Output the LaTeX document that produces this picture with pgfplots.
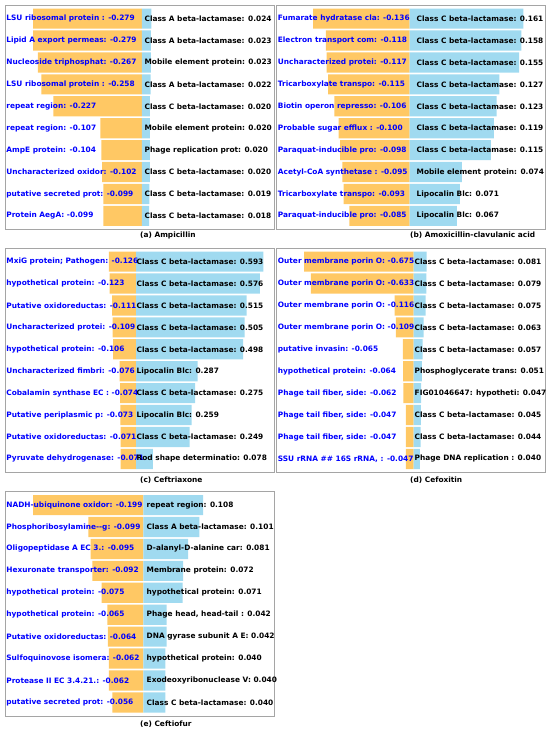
\documentclass[border=0pt]{standalone}
\usepackage{fontspec}
\setmainfont{DejaVu Sans}
\usepackage{pgfplots}
\pgfplotsset{compat=1.18}
\usepackage{pgfplotstable}
\definecolor{negbar}{RGB}{255,200,100}
\definecolor{posbar}{RGB}{160,218,240}
\definecolor{framegray}{RGB}{165,165,165}
\newcommand{\lfont}{\fontsize{7.4bp}{8.8bp}\selectfont\bfseries}

\pgfplotsset{
 panel/.style={
  scale only axis, width=269bp, height=224.5bp, anchor=north west,
  xtick=\empty, ytick=\empty, ymin=-0.62, ymax=9.62, y dir=reverse,
  axis line style={draw=framegray, line width=0.9bp},
  xbar, clip=false,
 },
 negbars/.style={xbar, bar shift=0pt, bar width=0.92, draw=none, fill=negbar},
 posbars/.style={xbar, bar shift=0pt, bar width=0.92, draw=none, fill=posbar},
}
\newcommand{\nl}[2]{\node[anchor=west,inner sep=0pt,text=blue,font=\lfont,xshift=1.2bp] at (axis cs:\xl,#1) {#2};}
\newcommand{\pl}[3]{\node[anchor=west,inner sep=0pt,text=black,font=\lfont,xshift=#3] at (axis cs:0,#1) {#2};}

\pgfplotstableread{
row neg pos
0 -0.279 0.024
1 -0.279 0.023
2 -0.267 0.023
3 -0.258 0.022
4 -0.227 0.020
5 -0.107 0.020
6 -0.104 0.020
7 -0.102 0.020
8 -0.099 0.019
9 -0.099 0.018
}\tblA
\pgfplotstableread{
row neg pos
0 -0.136 0.161
1 -0.118 0.158
2 -0.117 0.155
3 -0.115 0.127
4 -0.106 0.123
5 -0.100 0.119
6 -0.098 0.115
7 -0.095 0.074
8 -0.093 0.071
9 -0.085 0.067
}\tblB
\pgfplotstableread{
row neg pos
0 -0.126 0.593
1 -0.123 0.576
2 -0.111 0.515
3 -0.109 0.505
4 -0.106 0.498
5 -0.076 0.287
6 -0.074 0.275
7 -0.073 0.259
8 -0.071 0.249
9 -0.071 0.078
}\tblC
\pgfplotstableread{
row neg pos
0 -0.675 0.081
1 -0.633 0.079
2 -0.116 0.075
3 -0.109 0.063
4 -0.065 0.057
5 -0.064 0.051
6 -0.062 0.047
7 -0.047 0.045
8 -0.047 0.044
9 -0.047 0.040
}\tblD
\pgfplotstableread{
row neg pos
0 -0.199 0.108
1 -0.099 0.101
2 -0.095 0.081
3 -0.092 0.072
4 -0.075 0.071
5 -0.065 0.042
6 -0.064 0.042
7 -0.062 0.040
8 -0.062 0.040
9 -0.056 0.040
}\tblE

\begin{document}
\begin{tikzpicture}
\useasboundingbox (0,0) rectangle (550bp,-731bp);

% (a)
\def\xl{-0.3513}
\begin{axis}[panel, at={(5bp,-5bp)}, xmin=-0.3513, xmax=0.3385]
\addplot[negbars] table[x=neg,y=row]{\tblA};
\addplot[posbars] table[x=pos,y=row]{\tblA};
\nl{0}{LSU ribosomal protein : -0.279}
\nl{1}{Lipid A export permeas: -0.279}
\nl{2}{Nucleoside triphosphat: -0.267}
\nl{3}{LSU ribosomal protein : -0.258}
\nl{4}{repeat region: -0.227}
\nl{5}{repeat region: -0.107}
\nl{6}{AmpE protein: -0.104}
\nl{7}{Uncharacterized oxidor: -0.102}
\nl{8}{putative secreted prot: -0.099}
\nl{9}{Protein AegA: -0.099}
\pl{0}{Class A beta-lactamase: 0.024}{2.4bp}
\pl{1}{Class A beta-lactamase: 0.023}{2.4bp}
\pl{2}{Mobile element protein: 0.023}{2.4bp}
\pl{3}{Class A beta-lactamase: 0.022}{2.4bp}
\pl{4}{Class C beta-lactamase: 0.020}{2.4bp}
\pl{5}{Mobile element protein: 0.020}{2.4bp}
\pl{6}{Phage replication prot: 0.020}{2.4bp}
\pl{7}{Class C beta-lactamase: 0.020}{2.4bp}
\pl{8}{Class C beta-lactamase: 0.019}{2.4bp}
\pl{9}{Class C beta-lactamase: 0.018}{2.4bp}
\end{axis}

% (b)
\def\xl{-0.1879}
\begin{axis}[panel, at={(276.5bp,-5bp)}, xmin=-0.1879, xmax=0.1921]
\addplot[negbars] table[x=neg,y=row]{\tblB};
\addplot[posbars] table[x=pos,y=row]{\tblB};
\nl{0}{Fumarate hydratase cla: -0.136}
\nl{1}{Electron transport com: -0.118}
\nl{2}{Uncharacterized protei: -0.117}
\nl{3}{Tricarboxylate transpo: -0.115}
\nl{4}{Biotin operon represso: -0.106}
\nl{5}{Probable sugar efflux : -0.100}
\nl{6}{Paraquat-inducible pro: -0.098}
\nl{7}{Acetyl-CoA synthetase : -0.095}
\nl{8}{Tricarboxylate transpo: -0.093}
\nl{9}{Paraquat-inducible pro: -0.085}
\pl{0}{Class C beta-lactamase: 0.161}{7bp}
\pl{1}{Class C beta-lactamase: 0.158}{7bp}
\pl{2}{Class C beta-lactamase: 0.155}{7bp}
\pl{3}{Class C beta-lactamase: 0.127}{7bp}
\pl{4}{Class C beta-lactamase: 0.123}{7bp}
\pl{5}{Class C beta-lactamase: 0.119}{7bp}
\pl{6}{Class C beta-lactamase: 0.115}{7bp}
\pl{7}{Mobile element protein: 0.074}{7bp}
\pl{8}{Lipocalin Blc: 0.071}{7bp}
\pl{9}{Lipocalin Blc: 0.067}{7bp}
\end{axis}

% (c)
\def\xl{-0.6093}
\begin{axis}[panel, at={(5bp,-248bp)}, xmin=-0.6093, xmax=0.6419]
\addplot[negbars] table[x=neg,y=row]{\tblC};
\addplot[posbars] table[x=pos,y=row]{\tblC};
\nl{0}{MxiG protein; Pathogen: -0.126}
\nl{1}{hypothetical protein: -0.123}
\nl{2}{Putative oxidoreductas: -0.111}
\nl{3}{Uncharacterized protei: -0.109}
\nl{4}{hypothetical protein: -0.106}
\nl{5}{Uncharacterized fimbri: -0.076}
\nl{6}{Cobalamin synthase EC : -0.074}
\nl{7}{Putative periplasmic p: -0.073}
\nl{8}{Putative oxidoreductas: -0.071}
\nl{9}{Pyruvate dehydrogenase: -0.071}
\pl{0}{Class C beta-lactamase: 0.593}{0.5bp}
\pl{1}{Class C beta-lactamase: 0.576}{0.5bp}
\pl{2}{Class C beta-lactamase: 0.515}{0.5bp}
\pl{3}{Class C beta-lactamase: 0.505}{0.5bp}
\pl{4}{Class C beta-lactamase: 0.498}{0.5bp}
\pl{5}{Lipocalin Blc: 0.287}{0.5bp}
\pl{6}{Class C beta-lactamase: 0.275}{0.5bp}
\pl{7}{Lipocalin Blc: 0.259}{0.5bp}
\pl{8}{Class C beta-lactamase: 0.249}{0.5bp}
\pl{9}{Rod shape determinatio: 0.078}{0.5bp}
\end{axis}

% (d)
\def\xl{-0.8457}
\begin{axis}[panel, at={(276.5bp,-248bp)}, xmin=-0.8457, xmax=0.8148]
\addplot[negbars] table[x=neg,y=row]{\tblD};
\addplot[posbars] table[x=pos,y=row]{\tblD};
\nl{0}{Outer membrane porin O: -0.675}
\nl{1}{Outer membrane porin O: -0.633}
\nl{2}{Outer membrane porin O: -0.116}
\nl{3}{Outer membrane porin O: -0.109}
\nl{4}{putative invasin: -0.065}
\nl{5}{hypothetical protein: -0.064}
\nl{6}{Phage tail fiber, side: -0.062}
\nl{7}{Phage tail fiber, side: -0.047}
\nl{8}{Phage tail fiber, side: -0.047}
\nl{9}{SSU rRNA \#\# 16S rRNA, : -0.047}
\pl{0}{Class C beta-lactamase: 0.081}{1bp}
\pl{1}{Class C beta-lactamase: 0.079}{1bp}
\pl{2}{Class C beta-lactamase: 0.075}{1bp}
\pl{3}{Class C beta-lactamase: 0.063}{1bp}
\pl{4}{Class C beta-lactamase: 0.057}{1bp}
\pl{5}{Phosphoglycerate trans: 0.051}{1bp}
\pl{6}{FIG01046647: hypotheti: 0.047}{1bp}
\pl{7}{Class C beta-lactamase: 0.045}{1bp}
\pl{8}{Class C beta-lactamase: 0.044}{1bp}
\pl{9}{Phage DNA replication : 0.040}{1bp}
\end{axis}

% (e)
\def\xl{-0.2496}
\begin{axis}[panel, at={(5bp,-491.5bp)}, xmin=-0.2496, xmax=0.2359]
\addplot[negbars] table[x=neg,y=row]{\tblE};
\addplot[posbars] table[x=pos,y=row]{\tblE};
\nl{0}{NADH-ubiquinone oxidor: -0.199}
\nl{1}{Phosphoribosylamine-{}-g: -0.099}
\nl{2}{Oligopeptidase A EC 3.: -0.095}
\nl{3}{Hexuronate transporter: -0.092}
\nl{4}{hypothetical protein: -0.075}
\nl{5}{hypothetical protein: -0.065}
\nl{6}{Putative oxidoreductas: -0.064}
\nl{7}{Sulfoquinovose isomera: -0.062}
\nl{8}{Protease II EC 3.4.21.: -0.062}
\nl{9}{putative secreted prot: -0.056}
\pl{0}{repeat region: 0.108}{3.2bp}
\pl{1}{Class A beta-lactamase: 0.101}{3.2bp}
\pl{2}{D-alanyl-D-alanine car: 0.081}{3.2bp}
\pl{3}{Membrane protein: 0.072}{3.2bp}
\pl{4}{hypothetical protein: 0.071}{3.2bp}
\pl{5}{Phage head, head-tail : 0.042}{3.2bp}
\pl{6}{DNA gyrase subunit A E: 0.042}{3.2bp}
\pl{7}{hypothetical protein: 0.040}{3.2bp}
\pl{8}{Exodeoxyribonuclease V: 0.040}{3.2bp}
\pl{9}{Class C beta-lactamase: 0.040}{3.2bp}
\end{axis}

\node[anchor=west,inner sep=0pt,font=\lfont] at (140bp,-235bp) {(a) Ampicillin};
\node[anchor=west,inner sep=0pt,font=\lfont] at (410bp,-235bp) {(b) Amoxicillin-clavulanic acid};
\node[anchor=west,inner sep=0pt,font=\lfont] at (140bp,-480.5bp) {(c) Ceftriaxone};
\node[anchor=west,inner sep=0pt,font=\lfont] at (410bp,-480.5bp) {(d) Cefoxitin};
\node[anchor=west,inner sep=0pt,font=\lfont] at (140bp,-724bp) {(e) Ceftiofur};
\end{tikzpicture}
\end{document}
